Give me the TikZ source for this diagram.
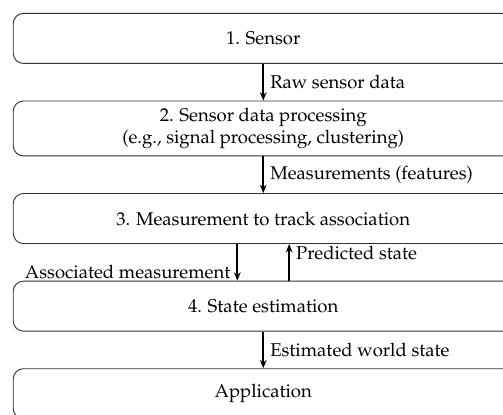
\documentclass[tikz,border=0pt]{standalone}
\usepackage[T1]{fontenc}
\usepackage{mathpazo}
\usepackage{tikz}
\usetikzlibrary{arrows.meta}
\usetikzlibrary{positioning}

\begin{document}
\begin{tikzpicture}[
		x=1pt,
		y=1pt,
		font=\fontsize{10pt}{12pt}\selectfont,
		>={Stealth[length=4.5pt,width=3.6pt]},
		node distance=19.8pt,
	]
		\tikzset{stage/.style={
			draw=black!80,
			line width=0.5pt,
			rectangle,
			rounded corners=5.5,
			minimum width=270,
			minimum height=27,
			inner sep=3.8,
			align=center,
		}}
		\tikzset{flow/.style={
			->,
			line width=0.9pt,
		}}

		\useasboundingbox (0,0) rectangle (271.6,-223.6);

		%---------------------------------
		% Stages
		\node[
			stage,
			anchor=north west,
		] (sensor) at (6.9,-7) {1. Sensor};
		\node[
			stage,
			below=of sensor,
		] (processing) {2. Sensor data processing\\(e.g., signal processing, clustering)};
		\node[
			stage,
			below=of processing,
		] (association) {3. Measurement to track association};
		\node[
			stage,
			below=of association,
		] (estimation) {4. State estimation};
		\node[
			stage,
			below=of estimation,
		] (application) {Application};

		%---------------------------------
		% Connections
		\draw[flow] (sensor) -- node[anchor=west] {Raw sensor data} (processing);
		\draw[flow] (processing) -- node[anchor=west] {Measurements (features)} (association);
		\draw[flow] ([xshift=-14]association.south) -- ([xshift=-14]estimation.north)
			node[pos=0.75, anchor=east] {Associated measurement};
		\draw[flow] ([xshift=14]estimation.north) -- ([xshift=14]association.south)
			node[pos=0.75, anchor=west] {Predicted state};
		\draw[flow] (estimation) -- node[anchor=west] {Estimated world state} (application);
	\end{tikzpicture}
\end{document}
